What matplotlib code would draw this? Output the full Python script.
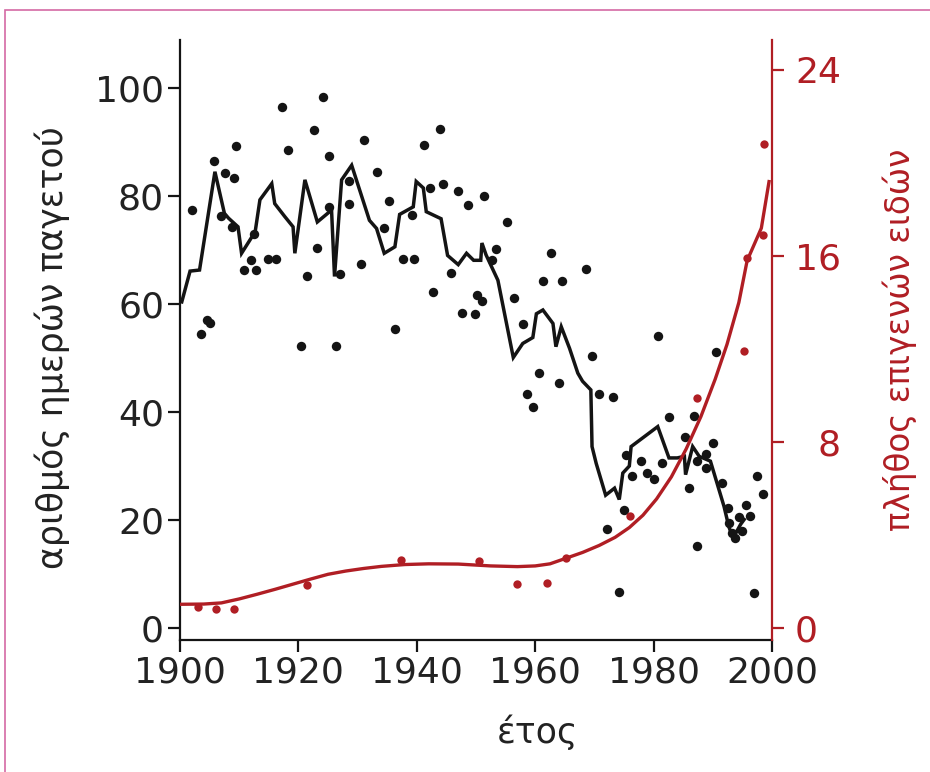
from matplotlib import pyplot
from matplotlib.patches import Rectangle

# days of ice cover, one dot per winter
ice_years = [1902.1, 1903.5, 1904.5, 1905.1, 1905.7, 1907.0, 1907.6, 1908.7, 1909.1, 1909.4,
             1910.8, 1912.0, 1912.5, 1912.9, 1914.8, 1916.3, 1917.3, 1918.3, 1920.5, 1921.5,
             1922.6, 1923.1, 1924.1, 1925.1, 1925.1, 1926.4, 1927.1, 1928.5, 1928.5, 1930.5,
             1931.0, 1933.3, 1934.4, 1935.3, 1936.4, 1937.7, 1939.2, 1939.5, 1941.2, 1942.2,
             1942.8, 1944.0, 1944.5, 1945.8, 1946.9, 1947.6, 1948.6, 1949.9, 1950.2, 1951.0,
             1951.3, 1952.7, 1953.3, 1955.2, 1956.4, 1957.9, 1958.6, 1959.6, 1960.6, 1961.4,
             1962.7, 1964.1, 1964.6, 1968.5, 1969.6, 1970.8, 1972.2, 1973.1, 1974.1, 1975.0,
             1975.3, 1976.4, 1977.8, 1978.9, 1980.0, 1980.7, 1981.4, 1982.6, 1985.3, 1986.0,
             1986.8, 1987.4, 1987.4, 1988.8, 1988.8, 1990.1, 1990.6, 1991.5, 1992.5, 1992.7,
             1993.3, 1993.7, 1994.4, 1995.0, 1995.6, 1996.3, 1997.0, 1997.5, 1998.5]
ice_days = [77.4, 54.4, 57.0, 56.4, 86.5, 76.3, 84.3, 74.3, 83.3, 89.3,
            66.3, 68.1, 72.9, 66.3, 68.3, 68.3, 96.4, 88.5, 52.2, 65.2,
            92.3, 70.4, 98.3, 87.5, 77.9, 52.3, 65.5, 82.8, 78.5, 67.4,
            90.4, 84.5, 74.1, 79.1, 55.3, 68.3, 76.5, 68.3, 89.4, 81.5,
            62.2, 92.4, 82.3, 65.7, 81.0, 58.3, 78.3, 58.1, 61.7, 60.5,
            80.1, 68.1, 70.2, 75.2, 61.2, 56.3, 43.4, 40.9, 47.3, 64.2,
            69.5, 45.4, 64.3, 66.4, 50.3, 43.4, 18.4, 42.8, 6.6, 21.9,
            32.1, 28.1, 30.9, 28.8, 27.6, 54.1, 30.6, 39.1, 35.3, 25.9,
            39.2, 30.9, 15.1, 32.2, 29.7, 34.3, 51.2, 26.9, 22.2, 19.4,
            17.6, 16.7, 20.6, 17.9, 22.8, 20.8, 6.4, 28.1, 24.9]

# black running-mean line
mean_years = [1900.3, 1901.7, 1903.3, 1905.9, 1907.5, 1908.2, 1909.8, 1910.4, 1912.7, 1913.5,
              1915.5, 1916.0, 1917.7, 1919.1, 1919.4, 1921.1, 1923.2, 1925.6, 1926.1, 1927.3,
              1929.0, 1932.0, 1933.2, 1934.5, 1936.3, 1937.1, 1939.4, 1939.9, 1941.1, 1941.6,
              1944.1, 1945.2, 1947.0, 1948.4, 1949.6, 1950.8, 1951.0, 1951.7, 1953.7, 1956.3,
              1957.9, 1959.6, 1960.2, 1961.3, 1963.0, 1963.5, 1964.4, 1965.8, 1967.2, 1968.0,
              1969.4, 1969.6, 1970.3, 1971.9, 1973.4, 1974.2, 1974.8, 1975.9, 1976.2, 1980.7,
              1982.6, 1984.0, 1985.2, 1985.4, 1986.6, 1987.7, 1989.6, 1991.9, 1992.7, 1993.3,
              1993.9, 1994.7, 1995.3]
mean_days = [60.4, 66.1, 66.3, 84.5, 76.8, 75.9, 74.3, 69.4, 73.4, 79.3,
             82.3, 78.6, 76.2, 74.3, 69.4, 83.0, 75.2, 77.4, 65.1, 83.0,
             85.7, 75.5, 74.0, 69.4, 70.6, 76.6, 78.0, 82.7, 81.5, 77.1,
             75.8, 69.0, 67.3, 69.4, 68.1, 68.1, 71.3, 69.1, 64.4, 50.1,
             52.7, 53.8, 58.2, 58.9, 56.4, 52.1, 55.8, 51.8, 47.2, 45.7,
             44.1, 33.6, 30.5, 24.6, 25.9, 23.8, 28.7, 30.0, 33.6, 37.3,
             31.5, 31.5, 31.8, 28.4, 33.6, 31.8, 30.9, 22.5, 18.8, 17.0,
             17.6, 19.2, 20.1]

# non-native species (red, right axis)
species_years = [1903.0, 1906.1, 1909.2, 1921.5, 1937.3, 1950.5, 1957.0, 1962.0,
                 1965.2, 1976.0, 1987.4, 1995.3, 1995.8, 1998.5, 1998.7]
species_counts = [0.92, 0.80, 0.83, 1.85, 2.91, 2.88, 1.88, 1.92,
                  3.03, 4.82, 9.88, 11.9, 15.9, 16.9, 20.8]
trend_years = [1900.0, 1904.0, 1907.0, 1910.0, 1913.0, 1916.0, 1919.0, 1922.0, 1925.0, 1928.0,
               1931.0, 1934.0, 1938.0, 1942.0, 1947.0, 1952.5, 1957.0, 1960.0, 1962.5, 1965.2,
               1968.0, 1970.8, 1973.5, 1975.9, 1978.2, 1980.5, 1983.0, 1985.5, 1988.0, 1990.4,
               1992.4, 1994.4, 1995.8, 1997.0, 1998.2, 1999.5]
trend_counts = [1.02, 1.03, 1.08, 1.25, 1.45, 1.66, 1.88, 2.10, 2.31, 2.45,
                2.56, 2.65, 2.73, 2.76, 2.75, 2.67, 2.64, 2.67, 2.76, 3.00,
                3.25, 3.55, 3.90, 4.32, 4.85, 5.55, 6.50, 7.70, 9.10, 10.70,
                12.20, 14.00, 15.80, 16.50, 17.20, 19.20]

red = '#b01e24'
black = '#141414'

fig = pyplot.figure(figsize=(9.3, 7.72), dpi=100)

# pink frame of the page
fig.patches.append(Rectangle((5 / 930, -0.1), 1.2, 1.1 - 10 / 772, fill=False,
                             edgecolor='#d46aa4', linewidth=1.2, transform=fig.transFigure))

ax = fig.add_axes([180 / 930, 1 - 640 / 772, 592 / 930, 600 / 772])
ax2 = ax.twinx()
ax.patch.set_visible(False)

# black series
ax.plot(mean_years, mean_days, color=black, linewidth=2.5, solid_joinstyle='miter', zorder=3)
ax.scatter(ice_years, ice_days, s=46, color=black, linewidths=0, zorder=4)

# red series
ax2.plot(trend_years, trend_counts, color=red, linewidth=2.4, zorder=3)
ax2.scatter(species_years, species_counts, s=36, color=red, linewidths=0, zorder=4)

ax.set_xlim(1900, 2000)
ax.set_ylim(-2.22, 108.9)
ax2.set_ylim(-0.516, 25.29)

ax.set_xticks(range(1900, 2001, 20))
ax.set_yticks(range(0, 101, 20))
ax2.set_yticks([0, 8, 16, 24])
ax2.set_yticklabels(['0', '\u20078', '16', '24'])

# spines
for side in ['top', 'right']:
    ax.spines[side].set_visible(False)
for side in ['top', 'left', 'bottom']:
    ax2.spines[side].set_visible(False)
ax.spines['left'].set_linewidth(1.6)
ax.spines['bottom'].set_linewidth(1.6)
ax.spines['left'].set_color(black)
ax.spines['bottom'].set_color(black)
ax2.spines['right'].set_linewidth(1.6)
ax2.spines['right'].set_color(red)

ax.tick_params(axis='both', direction='out', length=8.5, width=1.6, labelsize=26,
               pad=3, color=black, labelcolor='#222222')
ax2.tick_params(axis='y', direction='out', length=8.5, width=1.6, labelsize=26,
                pad=8, color=red, labelcolor=red)

# axis titles
fig.text(52 / 930, 1 - 348 / 772, 'αριθμός ημερών παγετού', rotation=90,
         ha='center', va='center', fontsize=25, color='#222222')
fig.text(900 / 930, 1 - 340 / 772, 'πλήθος επιγενών ειδών', rotation=90,
         ha='center', va='center', fontsize=23.5, color=red)
fig.text(537 / 930, 1 - 732 / 772, 'έτος', ha='center', va='center',
         fontsize=25, color='#222222')

fig.savefig('out.png', dpi=100)
